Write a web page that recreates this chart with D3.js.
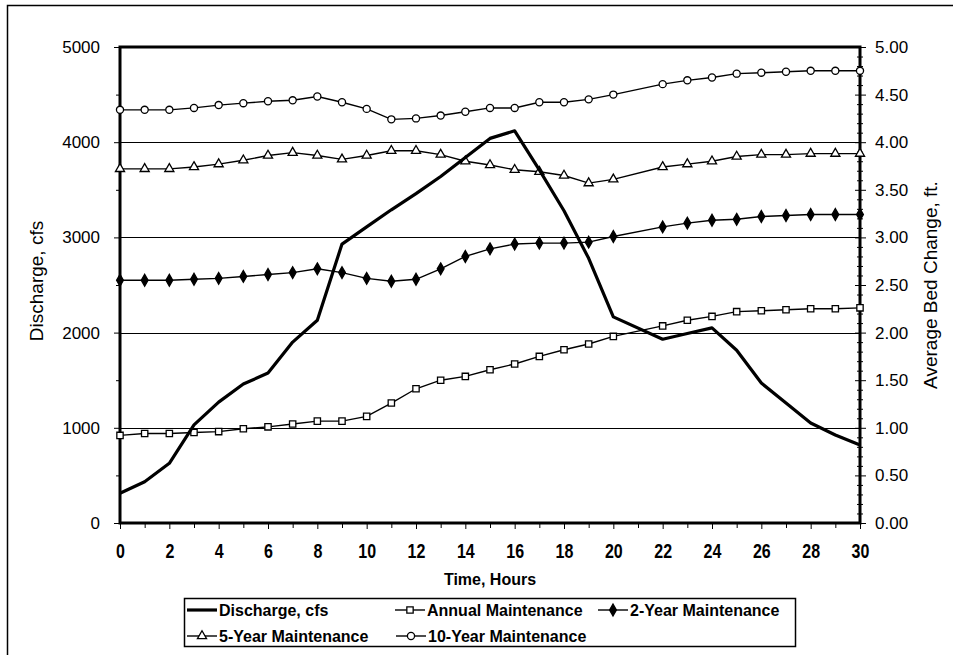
<html>
<script src='https://d3js.org/d3.v7.min.js'></script>
<style>
body {margin: 0; background: white;}
text {font-family: "Liberation Sans", Arial, sans-serif; fill: black;}
.ytick {font-size: 17px;}
.xtick {font-size: 20px; font-weight: bold;}
.title {font-size: 19px;}
.xtitle {font-size: 16px; font-weight: bold;}
.legend text {font-size: 16px; font-weight: bold;}
</style>
<body>
<svg width=953 height=655></svg>
<script>
// hours (no reading at hour 21)
var hours = [0,1,2,3,4,5,6,7,8,9,10,11,12,13,14,15,16,17,18,19,20,22,23,24,25,26,27,28,29,30];
var discharge = [312,434,627,1030,1270,1460,1575,1900,2130,2930,3110,3290,3460,3640,3840,4040,4120,3710,3280,2780,2165,1930,1990,2050,1815,1470,1260,1050,925,820];
var annual = [0.92,0.94,0.94,0.95,0.96,0.99,1.01,1.04,1.07,1.07,1.12,1.26,1.41,1.50,1.54,1.61,1.67,1.75,1.82,1.88,1.96,2.07,2.13,2.17,2.22,2.23,2.24,2.25,2.25,2.26];
var twoYear = [2.55,2.55,2.55,2.56,2.57,2.59,2.61,2.63,2.67,2.63,2.57,2.54,2.56,2.67,2.80,2.88,2.93,2.94,2.94,2.95,3.01,3.11,3.15,3.18,3.19,3.22,3.23,3.24,3.24,3.24];
var fiveYear = [3.72,3.72,3.72,3.74,3.77,3.81,3.86,3.89,3.86,3.82,3.86,3.91,3.91,3.87,3.80,3.76,3.71,3.69,3.65,3.57,3.61,3.74,3.77,3.80,3.85,3.87,3.87,3.88,3.88,3.88];
var tenYear = [4.34,4.34,4.34,4.36,4.39,4.41,4.43,4.44,4.48,4.42,4.35,4.24,4.25,4.28,4.32,4.36,4.36,4.42,4.42,4.45,4.50,4.61,4.65,4.68,4.72,4.73,4.74,4.75,4.75,4.75];
var xTicks = [0,2,4,6,8,10,12,14,16,18,20,22,24,26,28,30];
var leftTicks = [0,1000,2000,3000,4000,5000];
var rightTicks = [0,0.5,1,1.5,2,2.5,3,3.5,4,4.5,5];

var svg = d3.select("svg");
var x = d3.scaleLinear().domain([0,30]).range([120,860]);
var yL = d3.scaleLinear().domain([0,5000]).range([523,47]);
var yR = d3.scaleLinear().domain([0,5]).range([523,47]);

// outer frame
svg.append("path").attr("d","M7.5,655 V5.5 H953").attr("fill","none").attr("stroke","black").attr("stroke-width",1.5);

// gridlines
svg.append("g").selectAll("line").data([1000,2000,3000,4000]).enter().append("line")
  .attr("x1",120).attr("x2",860).attr("y1",d=>Math.round(yL(d))+0.5).attr("y2",d=>Math.round(yL(d))+0.5)
  .attr("stroke","black").attr("stroke-width",1);

// left axis
var gl = svg.append("g").attr("transform","translate(120,0)")
  .call(d3.axisLeft(yL).tickValues(leftTicks).tickSize(6).tickPadding(14).tickFormat(d3.format("d")));
gl.selectAll("text").attr("class","ytick");
gl.attr("font-family",null).attr("font-size",null);
gl.select(".domain").remove();
svg.append("g").attr("transform","translate(120,0)")
  .call(d3.axisLeft(yL).tickValues([500,1500,2500,3500,4500]).tickSize(4).tickFormat(""))
  .select(".domain").remove();

// right axis
var gr = svg.append("g").attr("transform","translate(860,0)")
  .call(d3.axisRight(yR).tickValues(rightTicks).tickSize(6).tickPadding(9).tickFormat(d3.format(".2f")));
gr.selectAll("text").attr("class","ytick");
gr.attr("font-family",null).attr("font-size",null);
gr.selectAll(".tick line").attr("x1",-5);
gr.select(".domain").remove();
var minor = d3.range(0,51).map(d=>d/10).filter(d=>Math.round(d*10)%5!==0);
svg.append("g").attr("transform","translate(860,0)")
  .call(d3.axisRight(yR).tickValues(minor).tickSize(3).tickFormat(""))
  .call(g=>g.selectAll(".tick line").attr("x1",-3))
  .select(".domain").remove();

// x axis (condensed bold labels)
var gx = svg.append("g").attr("transform","translate(0,523)")
  .call(d3.axisBottom(x).tickValues(xTicks).tickSize(6).tickPadding(15).tickFormat(d3.format("d")));
gx.attr("font-family",null).attr("font-size",null);
gx.selectAll("text").attr("class","xtick").attr("transform","scale(0.8,1)");
gx.select(".domain").remove();
svg.append("g").attr("transform","translate(0,523)")
  .call(d3.axisBottom(x).tickValues(d3.range(1,30,2)).tickSize(5).tickFormat(""))
  .select(".domain").remove();

// plot frame (thick)
svg.append("rect").attr("x",120).attr("y",47).attr("width",740).attr("height",476)
  .attr("fill","none").attr("stroke","black").attr("stroke-width",3);

// axis titles
svg.append("text").attr("class","title").attr("transform","translate(43,281) rotate(-90)")
  .attr("text-anchor","middle").text("Discharge, cfs");
svg.append("text").attr("class","title").attr("transform","translate(937,285) rotate(-90)")
  .attr("text-anchor","middle").text("Average Bed Change, ft.");
svg.append("text").attr("class","xtitle").attr("x",490).attr("y",585)
  .attr("text-anchor","middle").text("Time, Hours");

// series
var bedSeries = [
  {name:"Annual Maintenance", values:annual, shape:"square"},
  {name:"2-Year Maintenance", values:twoYear, shape:"diamond"},
  {name:"5-Year Maintenance", values:fiveYear, shape:"triangle"},
  {name:"10-Year Maintenance", values:tenYear, shape:"circle"}
];
var symbols = {
  square: d3.symbol().type(d3.symbolSquare).size(40),
  diamond: d3.symbol().type(d3.symbolDiamond).size(40),
  triangle: d3.symbol().type(d3.symbolTriangle).size(36),
  circle: d3.symbol().type(d3.symbolCircle).size(40)
};
function drawMarker(g, shape, tx, ty) {
  g.append("path").attr("d", symbols[shape]())
    .attr("transform","translate("+tx+","+ty+")")
    .attr("fill", shape==="diamond" ? "black" : "white")
    .attr("stroke","black").attr("stroke-width",1.3);
}
var lineR = d3.line().x(d=>x(d[0])).y(d=>yR(d[1]));
bedSeries.forEach(function(s) {
  var pts = hours.map((h,i)=>[h, s.values[i]]);
  var g = svg.append("g");
  g.append("path").attr("d", lineR(pts)).attr("fill","none").attr("stroke","black").attr("stroke-width",1.4);
  pts.forEach(p => drawMarker(g, s.shape, x(p[0]), yR(p[1])));
});

var lineL = d3.line().x(d=>x(d[0])).y(d=>yL(d[1]));
svg.append("path").attr("d", lineL(hours.map((h,i)=>[h, discharge[i]])))
  .attr("fill","none").attr("stroke","black").attr("stroke-width",3.2).attr("stroke-linejoin","round");

// legend
var lg = svg.append("g").attr("class","legend");
lg.append("rect").attr("x",184.5).attr("y",598.5).attr("width",611).attr("height",48)
  .attr("fill","white").attr("stroke","black").attr("stroke-width",1.5);
var legendItems = [
  {name:"Discharge, cfs", shape:null, lx:187, ly:610},
  {name:"Annual Maintenance", shape:"square", lx:395, ly:610},
  {name:"2-Year Maintenance", shape:"diamond", lx:598, ly:610},
  {name:"5-Year Maintenance", shape:"triangle", lx:187, ly:636},
  {name:"10-Year Maintenance", shape:"circle", lx:396, ly:636}
];
legendItems.forEach(function(it) {
  lg.append("line").attr("x1",it.lx).attr("x2",it.lx+30).attr("y1",it.ly).attr("y2",it.ly)
    .attr("stroke","black").attr("stroke-width", it.shape ? 1.4 : 3.2);
  if (it.shape) drawMarker(lg, it.shape, it.lx+15, it.ly);
  lg.append("text").attr("x",it.lx+32).attr("y",it.ly+6).text(it.name);
});
</script>
</body>
</html>
